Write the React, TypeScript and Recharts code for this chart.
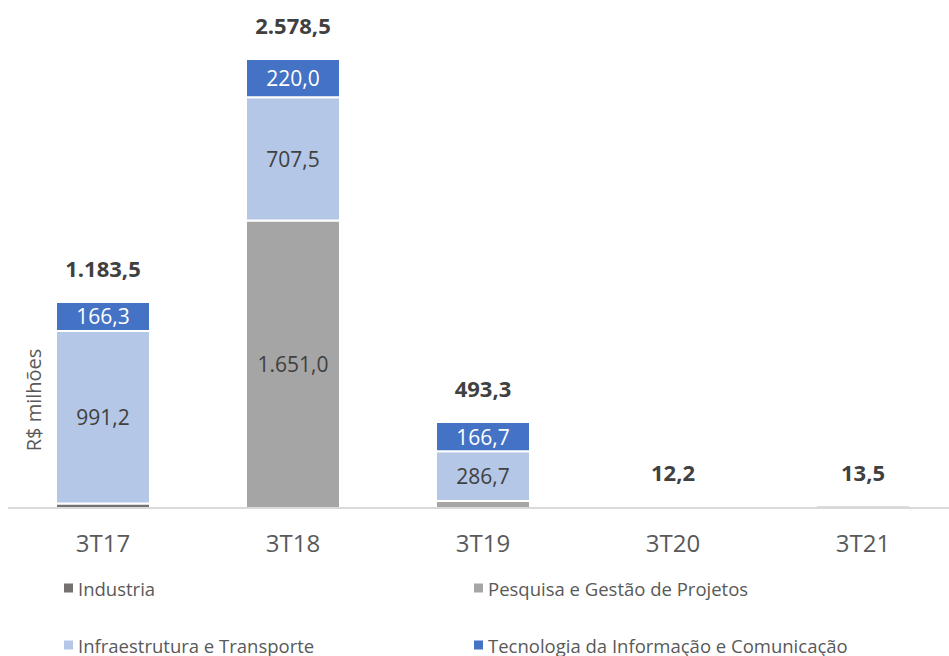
// Stacked bars by quarter — R$ milhões per segment, with bold totals on top.

import { Bar, BarChart, LabelList, XAxis, YAxis } from "recharts";

const quarters = ["3T17", "3T18", "3T19", "3T20", "3T21"];
const industria = [26.0, 0, 0, 12.2, 13.5];
const pesquisa = [0, 1651.0, 39.9, 0, 0];
const infra = [991.2, 707.5, 286.7, 0, 0];
const tic = [166.3, 220.0, 166.7, 0, 0];

const SERIES = [
  { key: "industria", name: "Industria", color: "#767171", values: industria, text: "#404040" },
  { key: "pesquisa", name: "Pesquisa e Gestão de Projetos", color: "#a5a5a5", values: pesquisa, text: "#404040" },
  { key: "infra", name: "Infraestrutura e Transporte", color: "#b4c7e7", values: infra, text: "#404040" },
  { key: "tic", name: "Tecnologia da Informação e Comunicação", color: "#4472c4", values: tic, text: "#ffffff" },
];

const FONT = "'Open Sans', 'Noto Sans', sans-serif";
const MUTED = "#595959";
const DARK = "#404040";

const data = quarters.map((q, i) => ({
  q,
  industria: industria[i],
  pesquisa: pesquisa[i],
  infra: infra[i],
  tic: tic[i],
}));
const totals = quarters.map(
  (_, i) => industria[i] + pesquisa[i] + infra[i] + tic[i]
);
// index of the topmost non-zero series for each quarter (carries the total)
const topSeries = quarters.map((_, i) => {
  let top = 0;
  SERIES.forEach((s, k) => {
    if (s.values[i] > 0) top = k;
  });
  return top;
});

// 1651.0 → "1.651,0"
function fmt(v: number): string {
  const [int, dec] = v.toFixed(1).split(".");
  return int.replace(/\B(?=(\d{3})+(?!\d))/g, ".") + "," + dec;
}

function segmentLabel(color: string) {
  return (p: any) => {
    const v = Number(p.value);
    if (!v || v < 100) return null;
    return (
      <text
        x={p.x + p.width / 2}
        y={p.y + p.height / 2}
        textAnchor="middle"
        dominantBaseline="central"
        fontSize={21}
        fontFamily={FONT}
        fill={color}
      >
        {fmt(v)}
      </text>
    );
  };
}

// LabelList keyed on "q", so value is the quarter name
function totalLabel(k: number) {
  return (p: any) => {
    const i = quarters.indexOf(String(p.value));
    if (i < 0 || topSeries[i] !== k) return null;
    return (
      <text
        x={p.x + p.width / 2}
        y={p.y - 34}
        textAnchor="middle"
        dominantBaseline="central"
        fontSize={22}
        fontWeight={700}
        fontFamily={FONT}
        fill={DARK}
      >
        {fmt(totals[i])}
      </text>
    );
  };
}

export default function App() {
  return (
    <div
      style={{
        position: "absolute",
        left: 0,
        top: 0,
        width: 949,
        height: 656,
        overflow: "hidden",
        background: "#fff",
        fontFamily: FONT,
      }}
    >
      <BarChart
        width={958}
        height={560}
        data={data}
        margin={{ top: 10, right: 0, bottom: 0, left: 8 }}
        barSize={94}
      >
        <XAxis
          dataKey="q"
          height={52}
          tickLine={false}
          axisLine={{ stroke: "#d9d9d9", strokeWidth: 2 }}
          tickMargin={21}
          tick={{ fontSize: 24, fill: MUTED, fontFamily: FONT }}
        />
        <YAxis hide domain={[0, 2860]} />
        {SERIES.map((s, k) => (
          <Bar
            key={s.key}
            dataKey={s.key}
            stackId="a"
            fill={s.color}
            stroke="#ffffff"
            strokeWidth={2}
            isAnimationActive={false}
          >
            <LabelList dataKey={s.key} content={segmentLabel(s.text)} />
            <LabelList dataKey="q" content={totalLabel(k)} />
          </Bar>
        ))}
      </BarChart>

      <div
        style={{
          position: "absolute",
          left: 33,
          top: 400,
          transform: "translate(-50%, -50%) rotate(-90deg)",
          fontSize: 20,
          color: MUTED,
          whiteSpace: "nowrap",
        }}
      >
        R$ milhões
      </div>

      {SERIES.map((s, i) => (
        <div
          key={s.key}
          style={{
            position: "absolute",
            left: i % 2 === 0 ? 64 : 474,
            top: i < 2 ? 588 : 645,
            transform: "translateY(-50%)",
            display: "flex",
            alignItems: "center",
            fontSize: 18.5,
            color: MUTED,
            whiteSpace: "nowrap",
          }}
        >
          <span
            style={{
              display: "inline-block",
              width: 9,
              height: 9,
              background: s.color,
              marginRight: 5,
            }}
          />
          {s.name}
        </div>
      ))}
    </div>
  );
}
